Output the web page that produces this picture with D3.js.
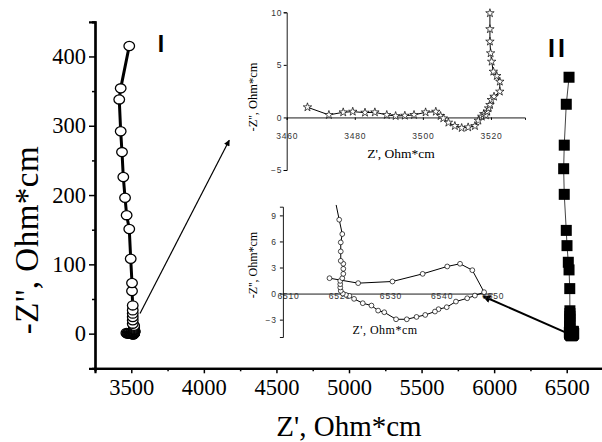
<!DOCTYPE html>
<meta charset="utf-8">
<title>Impedance spectra</title>
<script src="https://d3js.org/d3.v7.min.js"></script>
<style>
  body { margin: 0; background: #fff; }
  text { font-family: "Liberation Serif", "Times New Roman", serif; fill: #000; }
  .small text { font-family: "Liberation Sans", Arial, sans-serif; }
  .domain { stroke: #000; }
</style>
<body>
<div id="chart"></div>
<script>
// ---- data (Z', -Z'' in Ohm*cm) ----
// series I, low part (shown in the upper inset, star markers)
var s1LowRe = [3466.1, 3472.4, 3476.6, 3479.4, 3483.0, 3485.9, 3489.4, 3492.0, 3494.7, 3497.4, 3500.8, 3503.8,
               3505.2, 3506.0, 3507.5, 3509.4, 3511.4, 3513.3, 3515.3, 3516.3, 3517.3, 3517.9, 3518.5, 3518.9,
               3519.3, 3519.7, 3520.1, 3520.9, 3522.6, 3522.6, 3521.7, 3520.7, 3520.2, 3519.9, 3519.7, 3519.7, 3519.7, 3519.6];
var s1LowIm = [0.97, 0.24, 0.49, 0.55, 0.46, 0.49, 0.24, 0.14, 0.17, 0.24, 0.49, 0.55,
               0.14, -0.08, -0.49, -0.81, -1.0, -0.94, -0.81, -0.30, 0.08, 0.33, 0.21, 0.55,
               0.87, 1.19, 1.67, 1.98, 2.46, 3.41, 3.95, 4.36, 5.31, 6.11, 7.22, 8.40, 9.92, 11.5];
// series I, rest of the curve (main plot only)
var s1HighRe = [3510, 3510, 3510, 3510, 3510, 3510, 3505, 3505, 3496, 3486, 3468, 3457, 3445, 3436, 3427, 3417, 3427, 3486];
var s1HighIm = [14.4, 19.2, 24.0, 28.9, 33.6, 40.8, 61.5, 73, 108, 151, 171, 196, 226, 262, 292, 338, 354, 415];

// series II, low part (shown in the lower inset, circle markers)
var s2LowRe = [6518.1, 6523.7, 6530.4, 6536.3, 6541.1, 6543.6, 6546.0, 6548.3, 6546.5, 6545.0, 6542.8, 6541.0,
               6539.4, 6538.7, 6536.8, 6535.1, 6533.2, 6531.1, 6528.8, 6527.6, 6526.3, 6524.6, 6522.9, 6522.0,
               6521.3, 6520.7, 6520.3, 6520.2, 6520.2, 6520.2, 6520.6, 6520.8, 6520.8, 6520.8, 6520.3, 6520.3,
               6520.3, 6520.6, 6520.0, 6519.4];
var s2LowIm = [1.77, 1.20, 1.39, 2.27, 3.12, 3.43, 2.69, 0.16, -0.23, -0.54, -0.92, -1.57,
               -1.80, -2.07, -2.46, -2.69, -2.96, -2.96, -2.15, -1.96, -1.38, -1.11, -0.61, -0.27,
               -0.15, 0.0, 0.31, 0.70, 1.08, 1.46, 1.77, 2.27, 2.85, 3.43, 3.77, 4.85,
               5.89, 6.85, 8.50, 10.2];
// series II, rest of the curve
var s2HighRe = [6522, 6522, 6522, 6522, 6522, 6522, 6521, 6516, 6511, 6502, 6497, 6483, 6479, 6483, 6497, 6516];
var s2HighIm = [13, 17, 21, 25, 29, 33, 65, 92, 103, 127, 149, 201, 238, 272, 331, 370];

// ticks
var mainXTicks = [3500, 4000, 4500, 5000, 5500, 6000, 6500];
var mainXMinor = [3250, 3750, 4250, 4750, 5250, 5750, 6250, 6750];
var mainYTicks = [0, 100, 200, 300, 400];
var mainYMinor = [-50, 50, 150, 250, 350, 450];
var topXTicks = [3460, 3480, 3500, 3520];
var topYTicks = [-5, 0, 5, 10];
var botXTicks = [6510, 6520, 6530, 6540, 6550];
var botYTicks = [-3, 0, 3, 6, 9];

function pts(re, im) { return re.map(function(d, i) { return [d, im[i]]; }); }
var s1 = pts(s1LowRe, s1LowIm).concat(pts(s1HighRe, s1HighIm));
var s2 = pts(s2LowRe, s2LowIm).concat(pts(s2HighRe, s2HighIm));

var svg = d3.select("#chart").append("svg")
    .attr("width", 602).attr("height", 442);

var defs = svg.append("defs");
defs.append("marker").attr("id", "head").attr("viewBox", "0 0 10 10")
    .attr("refX", 9).attr("refY", 5).attr("markerWidth", 7).attr("markerHeight", 6)
    .attr("markerUnits", "userSpaceOnUse").attr("orient", "auto")
  .append("path").attr("d", "M0,0L10,5L0,10Z").attr("fill", "#000");
defs.append("marker").attr("id", "head2").attr("viewBox", "0 0 10 10")
    .attr("refX", 9).attr("refY", 5).attr("markerWidth", 10).attr("markerHeight", 8)
    .attr("markerUnits", "userSpaceOnUse").attr("orient", "auto")
  .append("path").attr("d", "M0,0L10,5L0,10Z").attr("fill", "#000");

// ---------- main plot ----------
var x = d3.scaleLinear().domain([3250, 6750]).range([95, 603]);
var y = d3.scaleLinear().domain([-50, 450]).range([368.3, 21.8]);

var gx = svg.append("g").attr("transform", "translate(0," + y(-50) + ")");
gx.call(d3.axisBottom(x).tickValues(mainXTicks).tickSize(5).tickPadding(6).tickFormat(d3.format("d")));
gx.append("g").call(d3.axisBottom(x).tickValues(mainXMinor).tickSize(3).tickFormat(""));
var gy = svg.append("g").attr("transform", "translate(" + x(3250) + ",0)");
gy.call(d3.axisLeft(y).tickValues(mainYTicks).tickSize(6).tickPadding(3).tickFormat(d3.format("d")));
gy.append("g").call(d3.axisLeft(y).tickValues(mainYMinor).tickSize(3).tickFormat(""));
[gx, gy].forEach(function(g) {
  g.attr("font-family", "Liberation Serif").attr("font-size", 22.5);
  g.selectAll(".domain").attr("stroke-width", 2.2);
  g.selectAll(".tick line").attr("stroke-width", 1.5);
});

svg.append("text").attr("x", 349).attr("y", 436).attr("text-anchor", "middle")
    .style("font-size", "29px").text("Z', Ohm*cm");
svg.append("text").attr("transform", "translate(38,240) rotate(-90)").attr("text-anchor", "middle")
    .style("font-size", "33px").style("letter-spacing", "0.5px").text("-Z'', Ohm*cm");

// series I
svg.append("path").datum(s1)
    .attr("d", d3.line().x(function(d) { return x(d[0]); }).y(function(d) { return y(d[1]); }))
    .attr("fill", "none").attr("stroke", "#000").attr("stroke-width", 3);
svg.append("g").selectAll("ellipse").data(s1).join("ellipse")
    .attr("cx", function(d) { return x(d[0]); }).attr("cy", function(d) { return y(d[1]); })
    .attr("rx", 5.3).attr("ry", 4.6)
    .attr("fill", "#fff").attr("stroke", "#000").attr("stroke-width", 1.3);

// series II
svg.append("path").datum(s2)
    .attr("d", d3.line().x(function(d) { return x(d[0]); }).y(function(d) { return y(d[1]); }))
    .attr("fill", "none").attr("stroke", "#444").attr("stroke-width", 1);
svg.append("g").selectAll("rect").data(s2).join("rect")
    .attr("x", function(d) { return x(d[0]) - 5.5; }).attr("y", function(d) { return y(d[1]) - 5.5; })
    .attr("width", 11).attr("height", 11).attr("fill", "#000");

svg.append("text").attr("x", 161).attr("y", 52).attr("text-anchor", "middle")
    .style("font-family", "Liberation Sans").style("font-weight", "bold").style("font-size", "23px").text("I");
svg.append("text").attr("x", 558).attr("y", 57).attr("text-anchor", "middle")
    .style("font-family", "Liberation Sans").style("font-weight", "bold").style("font-size", "25px")
    .style("letter-spacing", "3px").text("II");

// arrows from the curves to the insets (main-plot data coordinates)
var arrowI = [[3560, 29], [4175, 279]];
var arrowII = [[6511, 0], [5925, 54]];
svg.append("line").attr("x1", x(arrowI[0][0])).attr("y1", y(arrowI[0][1]))
    .attr("x2", x(arrowI[1][0])).attr("y2", y(arrowI[1][1]))
    .attr("stroke", "#000").attr("stroke-width", 1.2).attr("marker-end", "url(#head)");
svg.append("line").attr("x1", x(arrowII[0][0])).attr("y1", y(arrowII[0][1]))
    .attr("x2", x(arrowII[1][0])).attr("y2", y(arrowII[1][1]))
    .attr("stroke", "#000").attr("stroke-width", 2).attr("marker-end", "url(#head2)");

// ---------- inset for series I ----------
var xt = d3.scaleLinear().domain([3460, 3530]).range([286.7, 525]);
var yt = d3.scaleLinear().domain([-5, 10]).range([170, 12.3]);
var insetTop = svg.append("g").attr("class", "small");
defs.append("clipPath").attr("id", "clipTop").append("rect")
    .attr("x", xt(3460)).attr("y", yt(10) - 1).attr("width", xt(3530) - xt(3460)).attr("height", yt(-5) - yt(10));
insetTop.append("g").attr("transform", "translate(0," + yt(0) + ")")
    .call(d3.axisBottom(xt).tickValues(topXTicks).tickSize(2.5).tickPadding(13).tickFormat(d3.format("d")));
insetTop.append("g").attr("transform", "translate(" + xt(3460) + ",0)")
    .call(d3.axisLeft(yt).tickValues(topYTicks).tickSize(3).tickPadding(1.5));
insetTop.selectAll(".domain").attr("stroke-width", 0.9);
insetTop.selectAll(".tick text").style("font-size", "8.5px").style("fill", "#333").style("letter-spacing", "0.8px");
insetTop.append("path").datum(pts(s1LowRe, s1LowIm)).attr("clip-path", "url(#clipTop)")
    .attr("d", d3.line().x(function(d) { return xt(d[0]); }).y(function(d) { return yt(d[1]); }))
    .attr("fill", "none").attr("stroke", "#000").attr("stroke-width", 1);
insetTop.append("g").selectAll("path").data(pts(s1LowRe, s1LowIm).filter(function(d) { return d[1] <= 10; })).join("path")
    .attr("transform", function(d) { return "translate(" + xt(d[0]) + "," + yt(d[1]) + ")"; })
    .attr("d", d3.symbol(d3.symbolStar, 22))
    .attr("fill", "#fff").attr("stroke", "#000").attr("stroke-width", 0.7);
svg.append("text").attr("x", 401).attr("y", 158).attr("text-anchor", "middle")
    .style("font-size", "13.5px").text("Z', Ohm*cm");
svg.append("text").attr("transform", "translate(257,97) rotate(-90)").attr("text-anchor", "middle")
    .style("font-size", "12.5px").text("-Z'', Ohm*cm");

// ---------- inset for series II ----------
var xb = d3.scaleLinear().domain([6509, 6550]).range([282.9, 492.8]);
var yb = d3.scaleLinear().domain([-5, 10]).range([337, 206.7]);
var insetBot = svg.append("g").attr("class", "small");
defs.append("clipPath").attr("id", "clipBot").append("rect")
    .attr("x", xb(6509)).attr("y", yb(10.4)).attr("width", xb(6550) - xb(6509)).attr("height", yb(-5) - yb(10.4));
insetBot.append("g").attr("transform", "translate(0," + yb(0) + ")")
    .call(d3.axisBottom(xb).tickValues(botXTicks).tickSize(0).tickPadding(-0.5).tickFormat(d3.format("d")));
insetBot.append("g").attr("transform", "translate(" + xb(6509) + ",0)")
    .call(d3.axisLeft(yb).tickValues(botYTicks).tickSize(3).tickPadding(3));
insetBot.selectAll(".domain").attr("stroke-width", 0.9);
insetBot.selectAll(".tick text").style("font-size", "8.5px").style("fill", "#333").style("letter-spacing", "0.8px");
insetBot.append("path").datum(pts(s2LowRe, s2LowIm)).attr("clip-path", "url(#clipBot)")
    .attr("d", d3.line().x(function(d) { return xb(d[0]); }).y(function(d) { return yb(d[1]); }))
    .attr("fill", "none").attr("stroke", "#000").attr("stroke-width", 1);
insetBot.append("g").selectAll("circle").data(pts(s2LowRe, s2LowIm).filter(function(d) { return d[1] <= 10; })).join("circle")
    .attr("cx", function(d) { return xb(d[0]); }).attr("cy", function(d) { return yb(d[1]); }).attr("r", 2.4)
    .attr("fill", "#fff").attr("stroke", "#000").attr("stroke-width", 0.7);
svg.append("text").attr("x", 385).attr("y", 334).attr("text-anchor", "middle")
    .style("font-size", "12px").style("letter-spacing", "0.5px").text("Z', Ohm*cm");
svg.append("text").attr("transform", "translate(257,265) rotate(-90)").attr("text-anchor", "middle")
    .style("font-size", "12px").text("-Z'', Ohm*cm");
</script>
</body>
